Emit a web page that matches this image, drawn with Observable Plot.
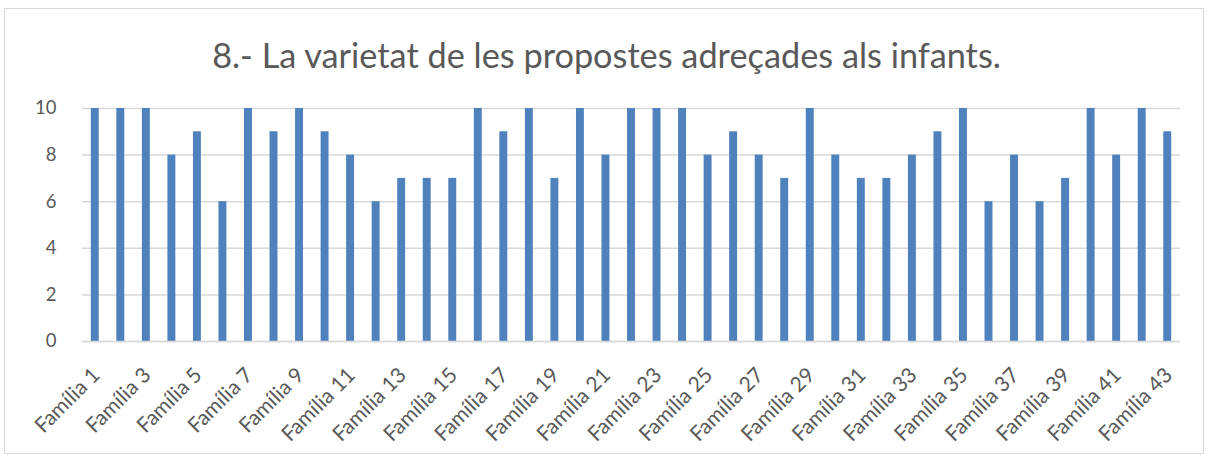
<!DOCTYPE html>
<html>
<head>
<meta charset="utf-8">
<script src="https://cdn.jsdelivr.net/npm/d3@7"></script>
<script src="https://cdn.jsdelivr.net/npm/@observablehq/plot@0.6"></script>
<style>
  body { margin: 0; background: #fff; font-family: Lato, "Open Sans", sans-serif; }
  #wrap { position: relative; width: 1213px; height: 464px; overflow: hidden; }
  #frame { position: absolute; left: 4px; top: 8px; width: 1200px; height: 446px; border: 1px solid #d9d9d9; box-sizing: border-box; pointer-events: none; }
  #title { height: 80px; line-height: 1; padding-top: 38px; box-sizing: border-box; text-align: center; font-size: 34.3px; color: #595959; }
  #chart { display: block; margin-top: 0px; }
</style>
</head>
<body>
<div id="wrap">
  <div id="frame"></div>
  <div id="title">8.- La varietat de les propostes adreçades als infants.</div>
  <div id="chart"></div>
</div>
<script>
const families = Array.from({length: 43}, (_, i) => "Família " + (i + 1));
const values = [10,10,10,8,9,6,10,9,10,9,8,6,7,7,7,10,9,10,7,10,8,10,10,10,8,9,8,7,10,8,7,7,8,9,10,6,8,6,7,10,8,10,9];
const yTicks = [0,2,4,6,8,10];
const xTickLabels = families.filter((d, i) => i % 2 === 0);

const data = families.map((f, i) => ({family: f, value: values[i]}));

const plot = Plot.plot({
  width: 1213,
  height: 384,
  marginLeft: 82,
  marginRight: 33,
  marginTop: 28,
  marginBottom: 123,
  style: {fontFamily: "Lato, 'Open Sans', sans-serif", fontSize: "18.5px", color: "#595959", background: "transparent"},
  x: {type: "band", domain: families, paddingInner: 0, paddingOuter: 0, round: false},
  y: {domain: [0, 10]},
  marks: [
    Plot.gridY(yTicks, {stroke: "#d9d9d9", strokeOpacity: 1, strokeWidth: 1.5}),
    Plot.barY(data, {x: "family", y: "value", fill: "#4f81bd", insetLeft: 8.8, insetRight: 8.8}),
    Plot.ruleY([0], {stroke: "#d9d9d9", strokeWidth: 1.5}),
    Plot.axisY(yTicks, {tickSize: 0, tickPadding: 26, fill: "#595959", label: null}),
    Plot.axisX(xTickLabels, {tickSize: 0, tickRotate: -45, textAnchor: "end", fill: "#595959", label: null, tickPadding: 30, dx: 1, fontSize: 21})
  ]
});
document.getElementById("chart").appendChild(plot);
plot.querySelectorAll("g[aria-label='x-axis tick label'] text, g[aria-label='x-axis tick label']").forEach(el => el.setAttribute("font-size", "21"));
</script>
</body>
</html>
